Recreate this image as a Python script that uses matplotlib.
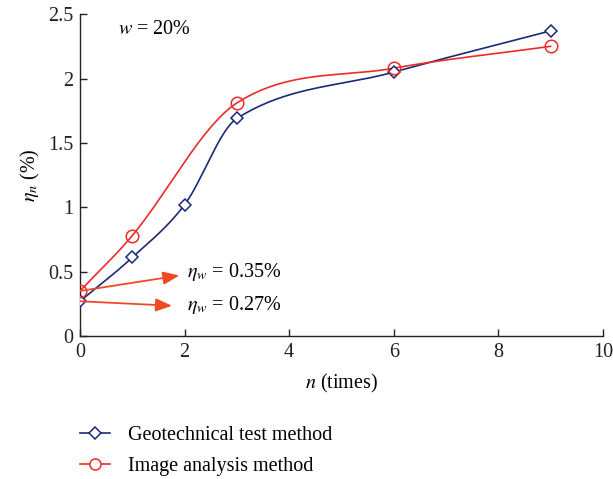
import numpy as np
import matplotlib
matplotlib.use("Agg")
import matplotlib.pyplot as plt
from matplotlib.patches import FancyArrowPatch

plt.rcParams["font.family"] = ["Liberation Serif", "DejaVu Serif"]
plt.rcParams["mathtext.fontset"] = "stix"

# Measured data
n_geo = [0, 1, 2, 3, 6, 9]
eta_geo = [0.27, 0.61, 1.02, 1.69, 2.05, 2.37]
n_img = [0, 1, 3, 6, 9]
eta_img = [0.35, 0.78, 1.81, 2.08, 2.25]

xticks = [0, 2, 4, 6, 8, 10]
yticks = [0, 0.5, 1, 1.5, 2, 2.5]
ytick_labels = ["0", "0.5", "1", "1.5", "2", "2.5"]

blue = "#1b2a78"
red = "#ee2b2b"
arrow_c = "#f04a25"
FS = 14.5


def smooth(x, y, per_seg=40):
    """Cubic Hermite curve with finite-difference tangents."""
    x = np.asarray(x, float)
    y = np.asarray(y, float)
    m = np.empty_like(y)
    m[0] = (y[1] - y[0]) / (x[1] - x[0])
    m[-1] = (y[-1] - y[-2]) / (x[-1] - x[-2])
    m[1:-1] = (y[2:] - y[:-2]) / (x[2:] - x[:-2])
    xs, ys = [], []
    for i in range(len(x) - 1):
        h = x[i + 1] - x[i]
        t = np.linspace(0, 1, per_seg, endpoint=(i == len(x) - 2))
        h00 = 2 * t**3 - 3 * t**2 + 1
        h10 = t**3 - 2 * t**2 + t
        h01 = -2 * t**3 + 3 * t**2
        h11 = t**3 - t**2
        xs.append(x[i] + t * h)
        ys.append(h00 * y[i] + h10 * h * m[i] + h01 * y[i + 1] + h11 * h * m[i + 1])
    return np.concatenate(xs), np.concatenate(ys)


fig = plt.figure(figsize=(6.13, 4.79), dpi=100)
ax = fig.add_axes([0.1305, 0.2985, 0.853, 0.672])

gx, gy = smooth(n_geo, eta_geo)
ix, iy = smooth(n_img, eta_img)
ax.plot(gx, gy, color=blue, lw=1.2, zorder=3)
ax.plot(ix, iy, color=red, lw=1.2, zorder=3)
ax.plot(n_geo, eta_geo, ls="none", marker="D", ms=6, mfc="white",
        mec=blue, mew=1.1, zorder=4)
ax.plot(n_img, eta_img, ls="none", marker="o", ms=9, mfc="none",
        mec=red, mew=1.1, zorder=5)

# legend proxies
h1, = ax.plot([], [], color=blue, lw=1.2, marker="D", ms=6, mfc="white",
              mec=blue, mew=1.1, label="Geotechnical test method")
h2, = ax.plot([], [], color=red, lw=1.2, marker="o", ms=8, mfc="white",
              mec=red, mew=1.1, label="Image analysis method")

ax.set_xlim(0, 10)
ax.set_ylim(0, 2.5)
ax.set_xticks(xticks)
ax.set_yticks(yticks)
ax.set_yticklabels(ytick_labels)
for s in ("top", "right"):
    ax.spines[s].set_visible(False)
for s in ("left", "bottom"):
    ax.spines[s].set_linewidth(1.0)
    ax.spines[s].set_color("#222222")
ax.tick_params(direction="in", length=5, width=1.0, labelsize=FS,
               colors="#222222", pad=5)
for lab in ax.get_xticklabels() + ax.get_yticklabels():
    lab.set_color("#222222")

ax.set_xlabel(r"$n$ (times)", fontsize=FS, labelpad=7)
ax.set_ylabel(r"$\eta_n$ (%)", fontsize=FS, labelpad=4)

ax.text(0.73, 2.38, r"$w$ = 20%", fontsize=FS, va="center", ha="left")

# arrows to the starting values
for y0, tip, txt_y, val in [(eta_img[0], (1.9, 0.47), 0.50, eta_img[0]),
                            (eta_geo[0], (1.76, 0.235), 0.24, eta_geo[0])]:
    arr = FancyArrowPatch((0, y0), tip,
                          arrowstyle="-|>,head_length=0.55,head_width=0.22",
                          mutation_scale=18, color=arrow_c, lw=1.3, zorder=6,
                          shrinkA=0, shrinkB=0)
    ax.add_patch(arr)
    ax.text(2.05, txt_y, r"$\eta_w$" + " = %.2f%%" % val, fontsize=FS,
            va="center", ha="left")

ax.legend(handles=[h1, h2], loc="upper left",
          bbox_to_anchor=(0.1305, 0.111), bbox_transform=fig.transFigure,
          frameon=False, fontsize=FS, handlelength=1.5, handletextpad=0.9,
          labelspacing=0.6, borderaxespad=0, borderpad=0)

fig.savefig("out.png", dpi=100)
